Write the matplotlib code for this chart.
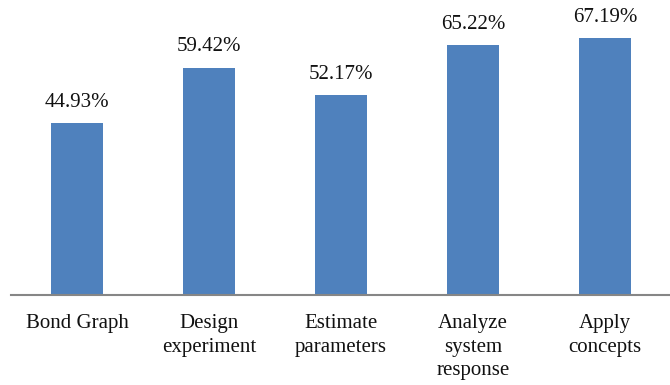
import numpy as np
import matplotlib.pyplot as plt

categories = ["Bond Graph", "Design\nexperiment", "Estimate\nparameters",
              "Analyze\nsystem\nresponse", "Apply\nconcepts"]
values = [44.93, 59.42, 52.17, 65.22, 67.19]
value_labels = ["44.93%", "59.42%", "52.17%", "65.22%", "67.19%"]

plt.rcParams['font.family'] = ['Liberation Serif', 'DejaVu Serif']

fig = plt.figure(figsize=(6.7, 3.85), dpi=100)
# axes box: x from 11px to 671px, baseline at 295px from top
ax = fig.add_axes([11 / 670, (385 - 295) / 385, 660 / 670, 290 / 385])

x = np.arange(len(categories))
bars = ax.bar(x, values, width=0.4, color='#4F81BD', zorder=2)

ax.set_xlim(-0.5, len(categories) - 0.5)
ax.set_ylim(0, 290 / 3.828)

for rect, lab in zip(bars, value_labels):
    ax.annotate(lab, (rect.get_x() + rect.get_width() / 2, rect.get_height()),
                xytext=(0, 8), textcoords='offset points',
                ha='center', va='bottom', fontsize=15, color='#111111')

ax.set_xticks(x)
ax.set_xticklabels(categories, fontsize=15, linespacing=1.3, color='#111111')
ax.tick_params(axis='x', length=0, pad=14)
ax.set_yticks([])

for side in ['left', 'right', 'top']:
    ax.spines[side].set_visible(False)
ax.spines['bottom'].set_color('#868686')
ax.spines['bottom'].set_linewidth(1.5)

plt.savefig('out.png', dpi=100)
